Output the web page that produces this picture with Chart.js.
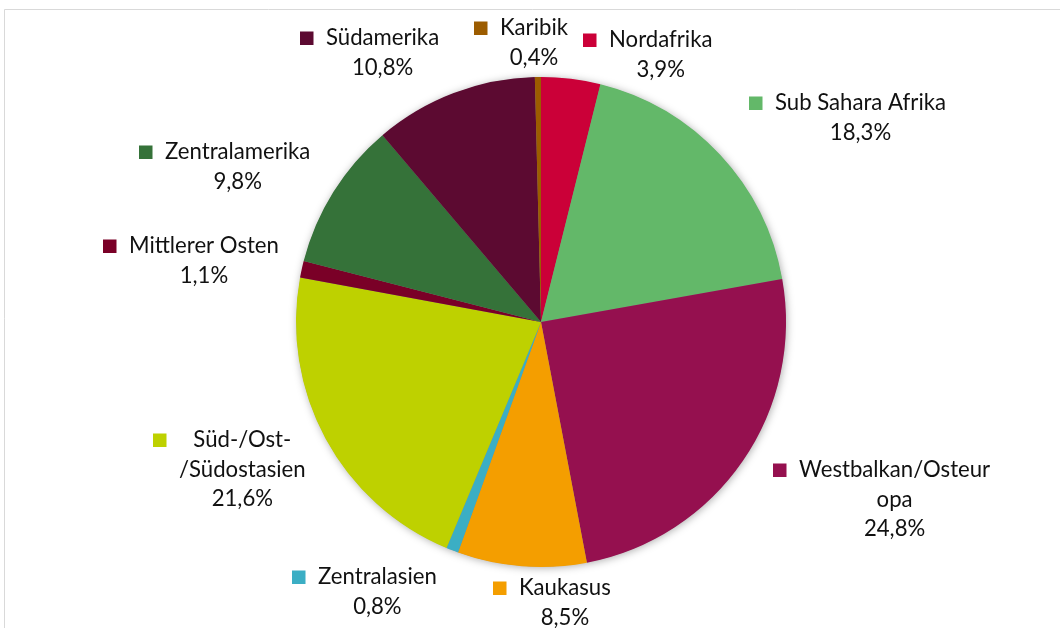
<!DOCTYPE html>
<html>
<head>
<meta charset="utf-8">
<script src="https://cdn.jsdelivr.net/npm/chart.js@4/dist/chart.umd.min.js"></script>
<style>
html,body{margin:0;padding:0;background:#fff;overflow:hidden;}
canvas{display:block;}
</style>
</head>
<body>
<canvas id="c" width="1060" height="628"></canvas>
<script>
// ---- data ----
const categories = ["Nordafrika","Sub Sahara Afrika","Westbalkan/Osteuropa","Kaukasus","Zentralasien","Süd-/Ost-/Südostasien","Mittlerer Osten","Zentralamerika","Südamerika","Karibik"];
const shares = [3.9, 18.3, 24.8, 8.5, 0.8, 21.6, 1.1, 9.8, 10.8, 0.4];
const labelLines = [["Nordafrika"],["Sub Sahara Afrika"],["Westbalkan/Osteur","opa"],["Kaukasus"],["Zentralasien"],["Süd-/Ost-","/Südostasien"],["Mittlerer Osten"],["Zentralamerika"],["Südamerika"],["Karibik"]];

// ---- styles / layout ----
const colors = ["#CB0038","#63B869","#95104F","#F49E00","#3BAEC4","#BED100","#7A0027","#357239","#5C0A31","#9C5C00"];
// label anchor: [left of legend key, y of first text line]
const labelAnchors = [[583,40],[749,103],[773,470],[493,588],[292,577],[153,440],[103,246],[139,152],[300,38],[474,28]];

const FONT_FAMILY = "Lato, 'Open Sans', sans-serif";

const framePlugin = {
  id:'frame',
  beforeDraw(chart){
    const ctx = chart.ctx;
    ctx.save();
    ctx.fillStyle = '#fff';
    ctx.fillRect(0,0,chart.width,chart.height);
    ctx.strokeStyle = '#d9d9d9';
    ctx.lineWidth = 1;
    ctx.beginPath();
    ctx.moveTo(4.5, chart.height);
    ctx.lineTo(4.5, 9.5);
    ctx.lineTo(chart.width, 9.5);
    ctx.stroke();
    ctx.restore();
  },
  beforeDatasetsDraw(chart){
    const arc = chart.getDatasetMeta(0).data[0];
    if(!arc) return;
    const ctx = chart.ctx;
    ctx.save();
    ctx.shadowColor = 'rgba(0,0,0,0.35)';
    ctx.shadowBlur = 9;
    ctx.shadowOffsetX = 1;
    ctx.shadowOffsetY = 1;
    ctx.fillStyle = '#888';
    ctx.beginPath();
    ctx.arc(arc.x, arc.y, arc.outerRadius - 0.5, 0, Math.PI*2);
    ctx.fill();
    ctx.restore();
  }
};

const labelPlugin = {
  id:'pieLabels',
  afterDatasetsDraw(chart){
    const ctx = chart.ctx;
    ctx.save();
    // size font so text width matches the reference (Calibri 18pt-like)
    ctx.font = "24px " + FONT_FAMILY;
    const ref = ctx.measureText("Mittlerer Osten").width;
    const size = Math.min(24, 24 * 150 / ref);
    ctx.font = size.toFixed(2) + "px " + FONT_FAMILY;
    ctx.textBaseline = 'middle';
    ctx.textAlign = 'center';
    const lineH = 29.5;
    const dataset = chart.data.datasets[0];
    dataset.data.forEach((v,i)=>{
      const [kx, ky] = labelAnchors[i];
      const lines = labelLines[i].concat([v.toFixed(1).replace('.',',') + '%']);
      const textLeft = kx + 26;
      let maxW = 0;
      lines.forEach(l=>{ maxW = Math.max(maxW, ctx.measureText(l).width); });
      ctx.fillStyle = dataset.backgroundColor[i];
      ctx.fillRect(kx, ky - 6.5, 13.5, 13.5);
      ctx.fillStyle = '#111';
      lines.forEach((l,j)=>{
        ctx.fillText(l, textLeft + maxW/2, ky + j*lineH);
      });
    });
    ctx.restore();
  }
};

new Chart(document.getElementById('c'), {
  type:'pie',
  data:{
    labels: categories,
    datasets:[{
      data: shares,
      backgroundColor: colors,
      borderWidth: 0
    }]
  },
  options:{
    responsive:false,
    animation:false,
    layout:{padding:{top:77,bottom:61,left:296,right:274}},
    plugins:{legend:{display:false},tooltip:{enabled:false}}
  },
  plugins:[framePlugin,labelPlugin]
});
</script>
</body>
</html>
